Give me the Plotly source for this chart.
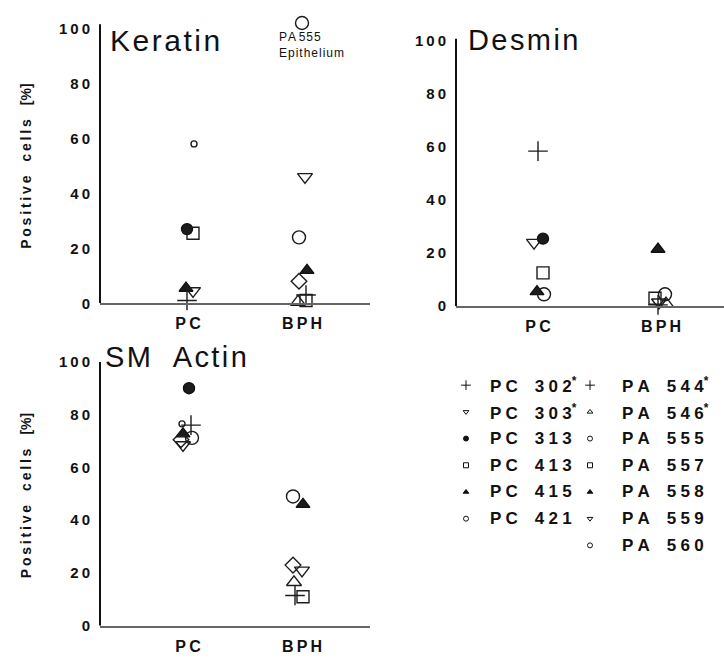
import plotly.graph_objects as go

W, H = 724, 667

# ---- data: positive cells [%] per marker, grouped by tissue ----
KERATIN_PC_SYMBOLS = ["circle_s", "dot", "square", "tri_up_f", "tri_down", "plus"]
KERATIN_PC_VALUES = [58, 27, 25.5, 5.5, 4.5, 1]
KERATIN_BPH_SYMBOLS = ["circle", "tri_down", "circle", "tri_up_f", "diamond", "plus", "square", "tri_up"]
KERATIN_BPH_VALUES = [102, 46, 24, 12, 8, 3, 1, 0.5]

DESMIN_PC_SYMBOLS = ["plus", "dot", "tri_down", "square", "tri_up_f", "circle"]
DESMIN_PC_VALUES = [58.5, 25.5, 24, 12.6, 5.5, 4.5]
DESMIN_BPH_SYMBOLS = ["tri_up_f", "circle", "square", "tri_down", "tri_up", "plus"]
DESMIN_BPH_VALUES = [21.5, 4.5, 3, 1.5, 1, 0.5]

ACTIN_PC_SYMBOLS = ["dot", "circle_s", "plus", "tri_up_f", "circle", "diamond", "tri_down"]
ACTIN_PC_VALUES = [90, 76.5, 76, 72.7, 71.2, 70.5, 68.5]
ACTIN_BPH_SYMBOLS = ["circle", "tri_up_f", "diamond", "tri_down", "tri_up", "square", "plus"]
ACTIN_BPH_VALUES = [49, 46, 23, 21, 16.5, 11, 11.5]

CATEGORIES = ["PC", "BPH"]
Y_TICKS = [0, 20, 40, 60, 80, 100]

LEGEND_PC = ["PC 302*", "PC 303*", "PC 313", "PC 413", "PC 415", "PC 421"]
LEGEND_PC_SYMBOLS = ["plus", "tri_down", "dot", "square", "tri_up_f", "circle_s"]
LEGEND_PA = ["PA 544*", "PA 546*", "PA 555", "PA 557", "PA 558", "PA 559", "PA 560"]
LEGEND_PA_SYMBOLS = ["plus", "tri_up", "circle_s", "square", "tri_up_f", "tri_down", "circle_s"]

# ---- marker styles ----
INK = "#111111"
FILL = "#1c1c1c"
STYLE = {
    "plus":     dict(symbol="cross-thin-open", size=14),
    "tri_down": dict(symbol="triangle-down-open", size=13),
    "tri_up":   dict(symbol="triangle-up-open", size=13),
    "dot":      dict(symbol="circle", size=11),
    "square":   dict(symbol="square-open", size=12),
    "tri_up_f": dict(symbol="triangle-up", size=12),
    "circle_s": dict(symbol="circle-open", size=6),
    "circle":   dict(symbol="circle-open", size=13),
    "diamond":  dict(symbol="diamond-open", size=12),
}

# small horizontal shifts (px) so overlapping symbols stay visible
SHIFT = {
    "keratin": ([6, -1, 5, -2, 5, -1], [0, 3, -3, 5, -3, 4, 4, -4]),
    "desmin": ([0, 5, -4, 5, -1, 6], [-3, 4, -6, -2, 5, -3]),
    "actin": ([1, -6, 3, -5, 4, -7, -5], [-9, 1, -9, 0, -8, 1, -7]),
}

# pixel geometry of each panel: x-left, x-right, y(100), y(0), PC x, BPH x,
# upper end of the value range, upper end of the drawn axis line
PANELS = {
    "keratin": dict(x0=100, x1=370, ytop=20, ybot=302, pc=188, bph=302,
                    ymax=104, line_top=101.5, title_x=108, title_y=32, title_size=30),
    "desmin": dict(x0=456, x1=724, ytop=33, ybot=305, pc=538, bph=661,
                   ymax=101, line_top=101, title_x=466, title_y=32, title_size=29),
    "actin": dict(x0=100, x1=370, ytop=362, ybot=633, pc=188, bph=302,
                  ymax=100, line_top=100, title_x=103, title_y=357, title_size=29),
}
PANEL_DATA = {
    "keratin": ((KERATIN_PC_SYMBOLS, KERATIN_PC_VALUES), (KERATIN_BPH_SYMBOLS, KERATIN_BPH_VALUES)),
    "desmin": ((DESMIN_PC_SYMBOLS, DESMIN_PC_VALUES), (DESMIN_BPH_SYMBOLS, DESMIN_BPH_VALUES)),
    "actin": ((ACTIN_PC_SYMBOLS, ACTIN_PC_VALUES), (ACTIN_BPH_SYMBOLS, ACTIN_BPH_VALUES)),
}
TITLES = {"keratin": ["Keratin"], "desmin": ["Desmin"], "actin": ["SM", "Actin"]}

FONT = "Liberation Sans, Arial, sans-serif"
THIN = "\u2009"
HAIR = "\u200a"


def spaced(s, gap=THIN):
    return gap.join(s)


fig = go.Figure()
layout = dict(
    width=W, height=H, autosize=False,
    margin=dict(l=0, r=0, t=0, b=0),
    paper_bgcolor="white", plot_bgcolor="rgba(0,0,0,0)",
    showlegend=False, font=dict(family=FONT, color=INK),
)
annotations = []
shapes = []

for i, key in enumerate(["keratin", "desmin", "actin"]):
    p = PANELS[key]
    n = "" if i == 0 else str(i + 1)
    xa, ya = "xaxis" + n, "yaxis" + n
    # category positions 1 (PC) and 2 (BPH) mapped to the pixel spots
    unit = (p["bph"] - p["pc"])
    r0 = 1 - (p["pc"] - p["x0"]) / unit
    r1 = r0 + (p["x1"] - p["x0"]) / unit
    px_per_pct = (p["ybot"] - p["ytop"]) / 100.0
    dom_top = p["ybot"] - p["ymax"] * px_per_pct
    layout[xa] = dict(
        domain=[p["x0"] / W, p["x1"] / W], range=[r0, r1], anchor="y" + n,
        tickvals=[1, 2], ticktext=[spaced(c) for c in CATEGORIES],
        tickfont=dict(size=16, family=FONT, color=INK, weight="bold"),
        showline=True, linecolor="#666666", linewidth=1.5, showgrid=False,
        zeroline=False, ticks="", ticklabelstandoff=5, fixedrange=True,
    )
    layout[ya] = dict(
        domain=[1 - p["ybot"] / H, 1 - dom_top / H], range=[0, p["ymax"]], anchor="x" + n,
        tickvals=Y_TICKS, ticktext=[spaced(str(t)) for t in Y_TICKS],
        tickfont=dict(size=15, family=FONT, color=INK, weight="bold"),
        showline=False, showgrid=False,
        zeroline=False, ticks="", ticklabelstandoff=9, fixedrange=True,
    )
    # vertical axis line
    shapes.append(dict(
        type="line", xref="x" + n + " domain", yref="y" + n,
        x0=0, x1=0, y0=0, y1=p["line_top"], line=dict(color=INK, width=2),
    ))
    for cat_idx, (syms, vals) in enumerate(PANEL_DATA[key]):
        shifts = SHIFT[key][cat_idx]
        for s, v, dx in zip(syms, vals, shifts):
            st = STYLE[s]
            fig.add_trace(go.Scatter(
                x=[cat_idx + 1 + dx / unit], y=[v], mode="markers",
                xaxis="x" + n, yaxis="y" + n, cliponaxis=False,
                marker=dict(symbol=st["symbol"], size=st["size"], color=FILL,
                            line=dict(color=INK, width=1.4)),
                hoverinfo="skip",
            ))
    title = "\u2002\u2005".join(spaced(w, HAIR) for w in TITLES[key])
    annotations.append(dict(
        text=title, x=p["title_x"] / W, y=1 - p["title_y"] / H,
        xref="paper", yref="paper", xanchor="left", yanchor="middle", showarrow=False,
        font=dict(size=p["title_size"], family=FONT, color=INK),
    ))

# y-axis titles
for yc in [162, 500]:
    annotations.append(dict(
        text=spaced("Positive") + "\u2003" + spaced("cells") + "\u2003[%]",
        x=26 / W, y=1 - yc / H, xref="paper", yref="paper", textangle=-90,
        xanchor="center", yanchor="middle",
        showarrow=False, font=dict(size=14, family=FONT, color=INK, weight="bold"),
    ))

# note under the off-scale epithelium value
annotations.append(dict(
    text=spaced("PA", HAIR) + " " + spaced("555", HAIR) + "<br>" + spaced("Epithelium", HAIR),
    x=277 / W, y=1 - 37 / H, xref="paper", yref="paper",
    xanchor="left", yanchor="middle", align="left", showarrow=False,
    font=dict(size=12, family=FONT, color=INK),
))

# ---- key (overlay axis in pixel units) ----
layout["xaxis4"] = dict(domain=[0, 1], range=[0, W], visible=False, fixedrange=True, anchor="y4")
layout["yaxis4"] = dict(domain=[0, 1], range=[H, 0], visible=False, fixedrange=True, anchor="x4")
ROW0, ROW_STEP = 386, 27.4
LETTER = "\u2005"
WORD = "\u2003"
COLS = [(466, 488, LEGEND_PC, LEGEND_PC_SYMBOLS), (590, 620, LEGEND_PA, LEGEND_PA_SYMBOLS)]
for mx, tx, labels, syms in COLS:
    for r, (lab, s) in enumerate(zip(labels, syms)):
        yy = ROW0 + r * ROW_STEP
        st = STYLE[s]
        fig.add_trace(go.Scatter(
            x=[mx], y=[yy], mode="markers", xaxis="x4", yaxis="y4",
            marker=dict(symbol=st["symbol"], size=5 if s != "plus" else 7, color=INK,
                        line=dict(color=INK, width=1)),
            hoverinfo="skip",
        ))
        name, num = lab.split(" ")
        star = num.endswith("*")
        num = num.rstrip("*")
        txt = spaced(name, LETTER) + WORD + spaced(num, LETTER) + ("<sup>*</sup>" if star else "")
        annotations.append(dict(
            text=txt, x=tx, y=yy, xref="x4", yref="y4", xanchor="left", yanchor="middle",
            showarrow=False, font=dict(size=17, family=FONT, color=INK, weight="bold"),
        ))

layout["annotations"] = annotations
layout["shapes"] = shapes
fig.update_layout(**layout)
fig.write_html("out.html")
